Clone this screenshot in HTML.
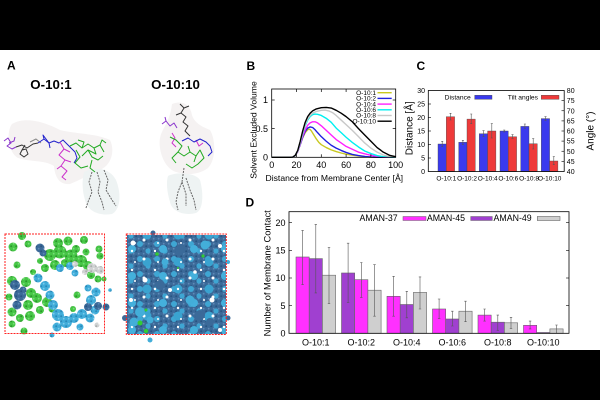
<!DOCTYPE html>
<html><head><meta charset="utf-8">
<style>
html,body{margin:0;padding:0;background:#fff;}
svg{display:block;}
text{font-family:"Liberation Sans",Arial,sans-serif;fill:#000;}
.b{font-weight:bold;}
</style></head>
<body>
<svg width="600" height="400" viewBox="0 0 600 400" xmlns="http://www.w3.org/2000/svg">
<defs>
  <pattern id="pg" width="5" height="5" patternUnits="userSpaceOnUse">
    <rect width="5" height="5" fill="#46c646"/><circle cx="1.2" cy="1.2" r="1" fill="#2c962c"/><circle cx="3.7" cy="3.7" r="0.9" fill="#78dc78"/>
  </pattern>
  <pattern id="pc" width="5" height="5" patternUnits="userSpaceOnUse">
    <rect width="5" height="5" fill="#40acd9"/><circle cx="1.2" cy="1.2" r="1" fill="#2a88b8"/><circle cx="3.7" cy="3.7" r="0.9" fill="#7ccbec"/>
  </pattern>
  <pattern id="pd" width="5" height="5" patternUnits="userSpaceOnUse">
    <rect width="5" height="5" fill="#3b6a99"/><circle cx="1.2" cy="1.2" r="1" fill="#2a5482"/><circle cx="3.7" cy="3.7" r="0.9" fill="#5f8ab6"/>
  </pattern>
  <pattern id="py" width="5" height="5" patternUnits="userSpaceOnUse">
    <rect width="5" height="5" fill="#cfd2d2"/><circle cx="1.2" cy="1.2" r="1" fill="#a9adad"/><circle cx="3.7" cy="3.7" r="0.9" fill="#eeeeee"/>
  </pattern>
  <pattern id="pr1" width="17" height="15" patternUnits="userSpaceOnUse">
    <circle cx="4" cy="4" r="3" fill="#3fa6d3"/><circle cx="12" cy="11" r="2.6" fill="#3fa6d3"/>
  </pattern>
  <pattern id="pr2" width="23" height="19" patternUnits="userSpaceOnUse">
    <circle cx="6" cy="12" r="1.5" fill="#fff"/><circle cx="17" cy="4" r="1.2" fill="#fff"/><circle cx="20" cy="15" r="1" fill="#fff"/>
  </pattern>
  <pattern id="pr3" width="31" height="27" patternUnits="userSpaceOnUse">
    <circle cx="8" cy="6" r="4" fill="#44b0dc"/><circle cx="23" cy="19" r="4.5" fill="#3aa3d0"/>
  </pattern>
</defs>

<rect x="0" y="0" width="600" height="400" fill="#fff"/>
<rect x="0" y="0" width="600" height="50" fill="#000"/>
<rect x="0" y="350" width="600" height="50" fill="#000"/>

<!-- ================= PANEL A ================= -->
<text x="7" y="69.5" class="b" font-size="12">A</text>
<text x="51" y="89" class="b" font-size="13.3" text-anchor="middle">O-10:1</text>
<text x="175.5" y="89" class="b" font-size="13.3" text-anchor="middle">O-10:10</text>

<!-- left molecule -->
<path d="M12,124 C25,116 45,122 60,130 C75,134 95,133 110,140 C115,150 112,165 100,170 C90,174 80,180 70,184 C60,185 55,178 54,166 C45,160 30,162 18,158 C8,152 6,132 12,124 Z" fill="#f5f2f2"/>
<path d="M84,172 C95,166 110,168 116,180 C122,195 120,210 112,214 C100,216 88,212 85,200 C82,190 82,180 84,172 Z" fill="#eef3f3"/>
<g fill="none" stroke-width="1" stroke-linejoin="round">
  <polyline stroke="#8a35cc" points="4,141 8,138 11,143 7,146 12,149 16,147"/>
  <polyline stroke="#8a35cc" points="9,143 14,141 15,137"/>
  <polyline stroke="#333" points="16,147 22,145 27,148 33,144 38,143"/>
  <polyline stroke="#333" points="22,150 26,149 28,154 24,157 20,154 22,150 25,145"/>
  <polyline stroke="#888" points="30,142 36,139 41,143"/>
  <polyline stroke="#2222cc" points="38,143 44,139 49,143 54,141 59,143 63,140 67,144 71,148 75,152 77,158 74,163"/>
  <polyline stroke="#2222cc" points="44,139 43,135 49,143 50,148"/>
  <polyline stroke="#cc33cc" points="60,142 64,149 59,155 65,160 61,166 67,171 62,177 66,180"/>
  <polyline stroke="#cc33cc" points="64,149 70,152"/>
  <polyline stroke="#cc33cc" points="65,160 71,162"/>
  <polyline stroke="#cc33cc" points="61,166 57,169"/>
  <polyline stroke="#22aa22" points="70,146 76,143 82,148 88,144 94,148 100,145 104,152"/>
  <polyline stroke="#22aa22" points="76,150 80,157 75,163 81,168 88,166"/>
  <polyline stroke="#22aa22" points="88,150 92,157 98,160 103,156"/>
  <polyline stroke="#22aa22" points="92,160 90,168 95,172"/>
  <polyline stroke="#22aa22" points="100,145 102,140 106,143"/>
  <polyline stroke="#22aa22" points="82,148 84,142 78,140"/>
  <polyline stroke="#22aa22" points="94,148 96,154 88,150 82,156"/>
  <polyline stroke="#666" stroke-dasharray="2,1" points="92,172 89,182 92,192 88,202 86,208"/>
  <polyline stroke="#666" stroke-dasharray="2,1" points="97,172 100,182 98,192 102,202 104,210"/>
  <polyline stroke="#666" stroke-dasharray="2,1" points="104,170 108,180 106,190 112,200 116,206"/>
</g>

<!-- right molecule -->
<path d="M172,104 C182,100 190,104 192,115 C194,122 200,126 210,130 C216,140 216,160 208,168 C200,174 188,176 176,172 C164,168 158,150 160,138 C162,128 170,122 172,104 Z" fill="#f5f2f2"/>
<path d="M168,176 C175,172 195,172 200,180 C204,195 203,210 196,213 C185,216 172,212 170,202 C167,192 166,182 168,176 Z" fill="#eef3f3"/>
<g fill="none" stroke-width="1" stroke-linejoin="round">
  <polyline stroke="#333" points="180,104 184,108 181,113 186,117 183,122 188,126 185,131 190,136"/>
  <polyline stroke="#333" points="184,108 189,106"/>
  <polyline stroke="#333" points="181,113 176,115"/>
  <polyline stroke="#8a35cc" points="162,124 166,121 170,126 174,123 177,128"/>
  <polyline stroke="#8a35cc" points="166,121 165,117"/>
  <polyline stroke="#cc33cc" points="172,133 175,138 172,143 176,147"/>
  <polyline stroke="#cc33cc" points="196,140 199,146 203,143"/>
  <polyline stroke="#2222cc" points="182,141 188,138 194,142 200,139 206,142 210,146 212,152 208,156"/>
  <polyline stroke="#22aa22" points="170,137 176,140 182,146 178,152 184,156 190,152 196,156 200,150 204,158 198,164 192,168 186,164"/>
  <polyline stroke="#22aa22" points="178,152 172,158 176,163"/>
  <polyline stroke="#22aa22" points="190,152 188,146"/>
  <polyline stroke="#22aa22" points="196,156 194,162"/>
  <polyline stroke="#666" stroke-dasharray="2,1" points="184,168 182,182 178,192 176,202 178,210"/>
  <polyline stroke="#666" stroke-dasharray="2,1" points="186,178 190,190 194,200 196,210"/>
  <polyline stroke="#666" stroke-dasharray="2,1" points="182,182 186,194 186,206"/>
</g>

<!-- left square -->
<g>
  <g fill="url(#pg)">
    <circle cx="22" cy="236" r="4"/><circle cx="13" cy="247" r="4.5"/><circle cx="28" cy="244" r="3.5"/>
    <circle cx="58" cy="243" r="5"/><circle cx="68" cy="241" r="4.5"/><circle cx="84" cy="240" r="4"/>
    <circle cx="99" cy="249" r="3.5"/><circle cx="100" cy="256" r="3.5"/>
    <circle cx="50" cy="255" r="6"/><circle cx="60" cy="252" r="6.5"/><circle cx="71" cy="256" r="6.5"/>
    <circle cx="81" cy="261" r="6"/><circle cx="88" cy="266" r="5"/><circle cx="55" cy="265" r="5"/>
    <circle cx="45" cy="268" r="4"/><circle cx="65" cy="263" r="4"/><circle cx="91" cy="275" r="4"/>
    <circle cx="76" cy="249" r="4"/><circle cx="17" cy="265" r="3.5"/>
    <circle cx="12" cy="281" r="5"/><circle cx="26" cy="282" r="5"/><circle cx="31" cy="293" r="5"/>
    <circle cx="28" cy="305" r="5"/><circle cx="12" cy="312" r="4.5"/><circle cx="30" cy="316" r="5"/>
    <circle cx="20" cy="318" r="4"/><circle cx="9" cy="297" r="3.5"/>
    <circle cx="37" cy="298" r="5"/><circle cx="47" cy="302" r="5"/><circle cx="40" cy="310" r="4"/><circle cx="52" cy="309" r="3.5"/>
    <circle cx="12" cy="324" r="3.5"/><circle cx="24" cy="331" r="3.5"/>
    <circle cx="98" cy="279" r="3.5"/><circle cx="104" cy="279" r="2.5"/>
    <circle cx="77" cy="295" r="3.5"/><circle cx="73" cy="309" r="3"/>
    <circle cx="86" cy="252" r="3.5"/><circle cx="40" cy="261" r="3"/><circle cx="33" cy="272" r="3"/>
  </g>
  <g fill="url(#pc)">
    <circle cx="38" cy="278" r="4.5"/><circle cx="45" cy="286" r="5"/><circle cx="50" cy="295" r="4.5"/>
    <circle cx="53" cy="305" r="5"/><circle cx="58" cy="315" r="6"/><circle cx="66" cy="322" r="6"/>
    <circle cx="57" cy="327" r="4.5"/><circle cx="74" cy="318" r="5"/><circle cx="82" cy="314" r="5"/>
    <circle cx="90" cy="318" r="4.5"/><circle cx="95" cy="310" r="4.5"/><circle cx="91" cy="300" r="5"/>
    <circle cx="96" cy="292" r="4.5"/><circle cx="88" cy="288" r="3.5"/><circle cx="60" cy="268" r="4"/>
    <circle cx="70" cy="266" r="4"/><circle cx="75" cy="273" r="3.5"/><circle cx="80" cy="327" r="3.5"/>
    <circle cx="110" cy="290" r="1.8"/><circle cx="52" cy="335" r="2.5"/>
  </g>
  <g fill="url(#pd)">
    <circle cx="40" cy="248" r="4.5"/><circle cx="43" cy="253" r="3.5"/>
    <circle cx="15" cy="285" r="5"/><circle cx="20" cy="295" r="6"/><circle cx="17" cy="305" r="4.5"/><circle cx="23" cy="290" r="3.5"/>
    <circle cx="88" cy="307" r="4"/><circle cx="98" cy="306" r="4"/><circle cx="106" cy="307" r="3.5"/>
  </g>
  <g fill="url(#py)">
    <circle cx="75" cy="264" r="3"/><circle cx="92" cy="268" r="5"/><circle cx="100" cy="270" r="4"/><circle cx="85" cy="272" r="3"/>
    <circle cx="97" cy="325" r="2.5"/>
  </g>
  <rect x="5" y="234" width="99.5" height="99.5" fill="none" stroke="#ff2020" stroke-width="1" stroke-dasharray="2,1"/>
</g>

<!-- right square -->
<g>
  <rect x="127" y="235" width="99" height="99" fill="url(#pd)"/>
  <rect x="127" y="235" width="99" height="99" fill="url(#pr1)"/>
  <rect x="127" y="235" width="99" height="99" fill="url(#pr3)"/>
  <rect x="127" y="235" width="99" height="99" fill="url(#pr2)"/>
  <g fill="#fff">
    <circle cx="133" cy="243" r="2.5"/><circle cx="145" cy="280" r="2.5"/><circle cx="131" cy="300" r="2"/>
    <circle cx="220" cy="246" r="2"/><circle cx="212" cy="300" r="2.5"/><circle cx="170" cy="290" r="2"/>
    <circle cx="195" cy="272" r="1.8"/><circle cx="220" cy="330" r="2"/>
  </g>
  <g fill="#43aed9">
    <circle cx="140" cy="312" r="5"/><circle cx="134" cy="322" r="4.5"/><circle cx="150" cy="320" r="3.5"/>
    <circle cx="205" cy="245" r="4.5"/><circle cx="190" cy="300" r="4.5"/><circle cx="165" cy="262" r="3.5"/>
    <circle cx="150" cy="340" r="2.5"/><circle cx="228" cy="262" r="2"/>
  </g>
  <g fill="#3b6a99">
    <circle cx="153" cy="233" r="2.5"/><circle cx="125" cy="318" r="3"/><circle cx="228" cy="318" r="2.5"/><circle cx="210" cy="322" r="4"/>
    <circle cx="160" cy="285" r="5"/><circle cx="180" cy="250" r="5"/><circle cx="200" cy="315" r="5"/>
  </g>
  <g fill="#33cc33">
    <circle cx="157" cy="254" r="1.8"/><circle cx="203" cy="256" r="1.6"/><circle cx="178" cy="268" r="1"/>
    <circle cx="140" cy="323" r="2.5"/><circle cx="146" cy="310" r="1.5"/><circle cx="146" cy="331" r="2.2"/>
  </g>
  <rect x="126.3" y="234" width="100" height="100.5" fill="none" stroke="#ff2020" stroke-width="1" stroke-dasharray="2,1"/>
</g>

<!-- ================= PANEL B ================= -->
<text x="246.5" y="70" class="b" font-size="12">B</text>
<g font-size="9">
  <text x="268" y="160.5" text-anchor="end">0</text>
  <text x="268" y="131.8" text-anchor="end">0.5</text>
  <text x="268" y="103.2" text-anchor="end">1</text>
  <text x="271.7" y="167.8" text-anchor="middle">0</text>
  <text x="296.5" y="167.8" text-anchor="middle">20</text>
  <text x="321.3" y="167.8" text-anchor="middle">40</text>
  <text x="346.1" y="167.8" text-anchor="middle">60</text>
  <text x="370.9" y="167.8" text-anchor="middle">80</text>
  <text x="395.7" y="167.8" text-anchor="middle">100</text>
</g>
<text x="334.3" y="180.8" font-size="8.6" text-anchor="middle">Distance from Membrane Center [Å]</text>
<text transform="translate(256.5,130) rotate(-90)" font-size="8.6" text-anchor="middle">Solvent Excluded Volume</text>
<g fill="none" stroke-linejoin="round" stroke-width="1.4">
  <g transform="translate(271.7,157.3) scale(1.24,-57.3)">
    <polyline vector-effect="non-scaling-stroke" stroke="#c8c820" points="0,0 15,0 17,0.005 19,0.03 21,0.1 23,0.22 25,0.34 27,0.43 29,0.48 30,0.49 31,0.485 32,0.46 34,0.39 36,0.32 38,0.26 40,0.22 44,0.17 48,0.13 52,0.1 56,0.075 60,0.055 65,0.038 70,0.024 75,0.012 80,0.004 85,0 100,0"/>
    <polyline vector-effect="non-scaling-stroke" stroke="#2020e0" points="0,0 15,0 17,0.005 19,0.03 21,0.1 23,0.22 25,0.35 27,0.45 29,0.51 31,0.53 33,0.52 35,0.48 37,0.43 40,0.36 44,0.28 48,0.21 52,0.16 56,0.12 60,0.085 65,0.05 70,0.03 75,0.015 80,0.005 85,0 100,0"/>
    <polyline vector-effect="non-scaling-stroke" stroke="#ff20ff" points="0,0 15,0 17,0.005 19,0.03 21,0.1 23,0.23 25,0.37 27,0.48 29,0.56 31,0.6 33,0.62 35,0.62 37,0.6 40,0.55 44,0.47 48,0.39 52,0.31 56,0.25 60,0.19 65,0.14 70,0.09 75,0.06 80,0.035 85,0.015 90,0.004 95,0 100,0"/>
    <polyline vector-effect="non-scaling-stroke" stroke="#00f0f0" points="0,0 15,0 17,0.005 19,0.03 21,0.11 23,0.25 25,0.41 27,0.55 29,0.65 31,0.71 33,0.745 35,0.755 37,0.75 40,0.73 44,0.68 48,0.61 52,0.51 56,0.43 60,0.35 65,0.26 70,0.18 75,0.11 80,0.065 85,0.03 90,0.01 95,0.002 100,0"/>
    <polyline vector-effect="non-scaling-stroke" stroke="#c8c8c8" points="0,0 15,0 17,0.005 19,0.03 21,0.11 23,0.26 25,0.43 27,0.57 29,0.67 31,0.73 33,0.77 36,0.8 40,0.82 43,0.825 46,0.81 49,0.78 52,0.73 56,0.65 60,0.57 65,0.47 70,0.36 75,0.25 80,0.16 85,0.09 90,0.04 95,0.012 100,0.002"/>
    <polyline vector-effect="non-scaling-stroke" stroke="#000" points="0,0 15,0 17,0.005 19,0.035 21,0.12 23,0.28 25,0.46 27,0.61 29,0.71 31,0.77 33,0.81 36,0.845 40,0.865 44,0.87 48,0.86 52,0.82 56,0.77 60,0.71 65,0.62 70,0.5 75,0.39 80,0.28 85,0.17 90,0.09 95,0.035 100,0.01"/>
  </g>
</g>
<rect x="271.7" y="89" width="124" height="68.3" fill="none" stroke="#000" stroke-width="0.8"/>
<g stroke="#000" stroke-width="0.7">
  <line x1="271.7" y1="128.65" x2="274.7" y2="128.65"/><line x1="271.7" y1="100" x2="274.7" y2="100"/>
  <line x1="395.7" y1="128.65" x2="392.7" y2="128.65"/><line x1="395.7" y1="100" x2="392.7" y2="100"/>
  <line x1="296.5" y1="157.3" x2="296.5" y2="154.3"/><line x1="321.3" y1="157.3" x2="321.3" y2="154.3"/>
  <line x1="346.1" y1="157.3" x2="346.1" y2="154.3"/><line x1="370.9" y1="157.3" x2="370.9" y2="154.3"/>
  <line x1="296.5" y1="89" x2="296.5" y2="92"/><line x1="321.3" y1="89" x2="321.3" y2="92"/>
  <line x1="346.1" y1="89" x2="346.1" y2="92"/>
</g>
<g font-size="6.5" text-anchor="end">
  <text x="376" y="94.9">O-10:1</text>
  <text x="376" y="100.6">O-10:2</text>
  <text x="376" y="106.3">O-10:4</text>
  <text x="376" y="112">O-10:6</text>
  <text x="376" y="117.7">O-10:8</text>
  <text x="376" y="123.4">O-10:10</text>
</g>
<g stroke-width="1.4">
  <line x1="377.5" y1="92.7" x2="391.7" y2="92.7" stroke="#c8c820"/>
  <line x1="377.5" y1="98.4" x2="391.7" y2="98.4" stroke="#2020e0"/>
  <line x1="377.5" y1="104.1" x2="391.7" y2="104.1" stroke="#ff20ff"/>
  <line x1="377.5" y1="109.8" x2="391.7" y2="109.8" stroke="#00f0f0"/>
  <line x1="377.5" y1="115.5" x2="391.7" y2="115.5" stroke="#c8c8c8"/>
  <line x1="377.5" y1="121.2" x2="391.7" y2="121.2" stroke="#000"/>
</g>

<!-- ================= PANEL C ================= -->
<text x="416.5" y="70" class="b" font-size="12">C</text>
<g stroke="#4a4a4a" stroke-width="0.4">
  <rect x="438" y="144" width="8.3" height="27.5" fill="#3a3aee"/>
  <rect x="446.3" y="116.7" width="8.3" height="54.8" fill="#ee3a3a"/>
  <rect x="458.7" y="142.3" width="8.3" height="29.2" fill="#3a3aee"/>
  <rect x="467" y="119.1" width="8.3" height="52.4" fill="#ee3a3a"/>
  <rect x="479.3" y="133.7" width="8.3" height="37.8" fill="#3a3aee"/>
  <rect x="487.6" y="131" width="8.3" height="40.5" fill="#ee3a3a"/>
  <rect x="500" y="131" width="8.3" height="40.5" fill="#3a3aee"/>
  <rect x="508.3" y="136.7" width="8.3" height="34.8" fill="#ee3a3a"/>
  <rect x="520.7" y="126.4" width="8.3" height="45.1" fill="#3a3aee"/>
  <rect x="529" y="143.7" width="8.3" height="27.8" fill="#ee3a3a"/>
  <rect x="541.3" y="118.6" width="8.3" height="52.9" fill="#3a3aee"/>
  <rect x="549.6" y="161" width="8.3" height="10.5" fill="#ee3a3a"/>
</g>
<g stroke="#555" stroke-width="0.6" fill="none">
  <path d="M442.2,141.3V146.7M441.2,141.3H443.2M441.2,146.7H443.2"/>
  <path d="M450.5,113.3V120M449.5,113.3H451.5M449.5,120H451.5"/>
  <path d="M462.9,140.3V144.7M461.9,140.3H463.9M461.9,144.7H463.9"/>
  <path d="M471.2,114V123.7M470.2,114H472.2M470.2,123.7H472.2"/>
  <path d="M483.5,130.7V136.7M482.5,130.7H484.5M482.5,136.7H484.5"/>
  <path d="M491.8,123.7V138M490.8,123.7H492.8M490.8,138H492.8"/>
  <path d="M504.2,130V132M503.2,130H505.2M503.2,132H505.2"/>
  <path d="M512.5,134.7V138.3M511.5,134.7H513.5M511.5,138.3H513.5"/>
  <path d="M524.9,124V128.3M523.9,124H525.9M523.9,128.3H525.9"/>
  <path d="M533.2,138.7V149M532.2,138.7H534.2M532.2,149H534.2"/>
  <path d="M545.5,116.7V120.3M544.5,116.7H546.5M544.5,120.3H546.5"/>
  <path d="M553.8,156.7V164.7M552.8,156.7H554.8M552.8,164.7H554.8"/>
</g>
<rect x="428.3" y="90.5" width="135.9" height="81" fill="none" stroke="#000" stroke-width="0.8"/>
<g stroke="#000" stroke-width="0.6">
  <line x1="428.3" y1="158" x2="431" y2="158"/><line x1="428.3" y1="144.5" x2="431" y2="144.5"/>
  <line x1="428.3" y1="131" x2="431" y2="131"/><line x1="428.3" y1="117.5" x2="431" y2="117.5"/>
  <line x1="428.3" y1="104" x2="431" y2="104"/>
  <line x1="564.2" y1="161.4" x2="561.5" y2="161.4"/><line x1="564.2" y1="151.25" x2="561.5" y2="151.25"/>
  <line x1="564.2" y1="141.1" x2="561.5" y2="141.1"/><line x1="564.2" y1="131" x2="561.5" y2="131"/>
  <line x1="564.2" y1="120.9" x2="561.5" y2="120.9"/><line x1="564.2" y1="110.75" x2="561.5" y2="110.75"/>
  <line x1="564.2" y1="100.6" x2="561.5" y2="100.6"/>
</g>
<g font-size="7" text-anchor="end">
  <text x="425" y="174">0</text><text x="425" y="160.5">5</text><text x="425" y="147">10</text>
  <text x="425" y="133.5">15</text><text x="425" y="120">20</text><text x="425" y="106.5">25</text><text x="425" y="93">30</text>
</g>
<g font-size="7">
  <text x="566.8" y="174">40</text><text x="566.8" y="163.9">45</text><text x="566.8" y="153.8">50</text>
  <text x="566.8" y="143.6">55</text><text x="566.8" y="133.5">60</text><text x="566.8" y="123.4">65</text>
  <text x="566.8" y="113.3">70</text><text x="566.8" y="103.1">75</text><text x="566.8" y="93">80</text>
</g>
<g font-size="6.5" text-anchor="middle">
  <text x="446.3" y="180.3">O-10:1</text><text x="467" y="180.3">O-10:2</text><text x="487.7" y="180.3">O-10:4</text>
  <text x="508.3" y="180.3">O-10:6</text><text x="529" y="180.3">O-10:8</text><text x="549.7" y="180.3">O-10:10</text>
</g>
<text transform="translate(412.5,128.3) rotate(-90)" font-size="10" text-anchor="middle">Distance [Å]</text>
<text transform="translate(593.5,131) rotate(-90)" font-size="10" text-anchor="middle">Angle (°)</text>
<text x="470.7" y="99.6" font-size="6.7" text-anchor="end">Distance</text>
<rect x="474.7" y="95.3" width="17.3" height="4" fill="#3a3aee" stroke="#444" stroke-width="0.4"/>
<text x="538" y="99.6" font-size="6.7" text-anchor="end">Tilt angles</text>
<rect x="541.3" y="95.3" width="17.7" height="4" fill="#ee3a3a" stroke="#444" stroke-width="0.4"/>

<!-- ================= PANEL D ================= -->
<text x="245.5" y="206.7" class="b" font-size="12">D</text>
<g stroke="#666" stroke-width="0.6">
  <rect x="296" y="257" width="13.2" height="76.3" fill="#ff30ff"/>
  <rect x="309.2" y="258.6" width="13.2" height="74.7" fill="#a040d0"/>
  <rect x="322.4" y="275.2" width="13.2" height="58.1" fill="#cfcfcf"/>
  <rect x="341.5" y="273" width="13.2" height="60.3" fill="#a040d0"/>
  <rect x="354.7" y="279.7" width="13.2" height="53.6" fill="#ff30ff"/>
  <rect x="367.9" y="290.2" width="13.2" height="43.1" fill="#cfcfcf"/>
  <rect x="387" y="296.3" width="13.2" height="37" fill="#ff30ff"/>
  <rect x="400.2" y="304.5" width="13.2" height="28.8" fill="#a040d0"/>
  <rect x="413.4" y="292.4" width="13.2" height="40.9" fill="#cfcfcf"/>
  <rect x="432.5" y="309" width="13.2" height="24.3" fill="#ff30ff"/>
  <rect x="445.7" y="319" width="13.2" height="14.3" fill="#a040d0"/>
  <rect x="458.9" y="311.2" width="13.2" height="22.1" fill="#cfcfcf"/>
  <rect x="478" y="315.1" width="13.2" height="18.2" fill="#ff30ff"/>
  <rect x="491.2" y="322.2" width="13.2" height="11.1" fill="#a040d0"/>
  <rect x="504.4" y="322.8" width="13.2" height="10.5" fill="#cfcfcf"/>
  <rect x="523.5" y="325.3" width="13.2" height="8" fill="#ff30ff"/>
  <rect x="536.7" y="332.5" width="13.2" height="0.8" fill="#a040d0"/>
  <rect x="549.9" y="328.9" width="13.2" height="4.4" fill="#cfcfcf"/>
</g>
<g stroke="#555" stroke-width="0.6" fill="none">
  <path d="M302.6,230.4V284.6M301.4,230.4H303.8M301.4,284.6H303.8"/>
  <path d="M315.8,224.4V292.9M314.6,224.4H317M314.6,292.9H317"/>
  <path d="M329,247.6V303.4M327.8,247.6H330.2M327.8,303.4H330.2"/>
  <path d="M348.1,243.2V302.3M346.9,243.2H349.3M346.9,302.3H349.3"/>
  <path d="M361.3,262.5V297.4M360.1,262.5H362.5M360.1,297.4H362.5"/>
  <path d="M374.5,264.7V316.2M373.3,264.7H375.7M373.3,316.2H375.7"/>
  <path d="M393.6,276.3V316.2M392.4,276.3H394.8M392.4,316.2H394.8"/>
  <path d="M406.8,291.3V317.8M405.6,291.3H408M405.6,317.8H408"/>
  <path d="M420,276.9V309M418.8,276.9H421.2M418.8,309H421.2"/>
  <path d="M439.1,299V318.4M437.9,299H440.3M437.9,318.4H440.3"/>
  <path d="M452.3,311.2V326M451.1,311.2H453.5M451.1,326H453.5"/>
  <path d="M465.5,301.2V321.7M464.3,301.2H466.7M464.3,321.7H466.7"/>
  <path d="M484.6,309V321.1M483.4,309H485.8M483.4,321.1H485.8"/>
  <path d="M497.8,315.1V330.5M496.6,315.1H499M496.6,330.5H499"/>
  <path d="M511,317.3V328.3M509.8,317.3H512.2M509.8,328.3H512.2"/>
  <path d="M530.1,321.1V328.9M528.9,321.1H531.3M528.9,328.9H531.3"/>
  <path d="M556.5,325V333.3M555.3,325H557.7"/>
</g>
<rect x="289" y="211.7" width="280" height="121.6" fill="none" stroke="#000" stroke-width="0.8"/>
<g stroke="#000" stroke-width="0.6">
  <line x1="289" y1="305.7" x2="292" y2="305.7"/><line x1="289" y1="278" x2="292" y2="278"/>
  <line x1="289" y1="250.4" x2="292" y2="250.4"/><line x1="289" y1="222.7" x2="292" y2="222.7"/>
  <line x1="569" y1="305.7" x2="566" y2="305.7"/><line x1="569" y1="278" x2="566" y2="278"/>
  <line x1="569" y1="250.4" x2="566" y2="250.4"/><line x1="569" y1="222.7" x2="566" y2="222.7"/>
</g>
<g font-size="9" text-anchor="end">
  <text x="285.5" y="336.5">0</text><text x="285.5" y="308.9">5</text><text x="285.5" y="281.2">10</text>
  <text x="285.5" y="253.6">15</text><text x="285.5" y="225.9">20</text>
</g>
<g font-size="9" text-anchor="middle">
  <text x="315.8" y="345.7">O-10:1</text><text x="361.3" y="345.7">O-10:2</text><text x="406.8" y="345.7">O-10:4</text>
  <text x="452.3" y="345.7">O-10:6</text><text x="497.8" y="345.7">O-10:8</text><text x="543.3" y="345.7">O-10:10</text>
</g>
<text transform="translate(270.3,273.3) rotate(-90)" font-size="9.4" text-anchor="middle">Number of Membrane Contact</text>
<g font-size="8.8" text-anchor="end">
  <text x="397.7" y="221.2">AMAN-37</text>
  <text x="465" y="221.2">AMAN-45</text>
  <text x="531.7" y="221.2">AMAN-49</text>
</g>
<rect x="403" y="216.5" width="23" height="4" fill="#ff30ff" stroke="#666" stroke-width="0.5"/>
<rect x="470.7" y="216.5" width="21.6" height="4" fill="#a040d0" stroke="#666" stroke-width="0.5"/>
<rect x="537.3" y="216.5" width="22.7" height="4" fill="#cfcfcf" stroke="#666" stroke-width="0.6"/>
</svg>
</body></html>
